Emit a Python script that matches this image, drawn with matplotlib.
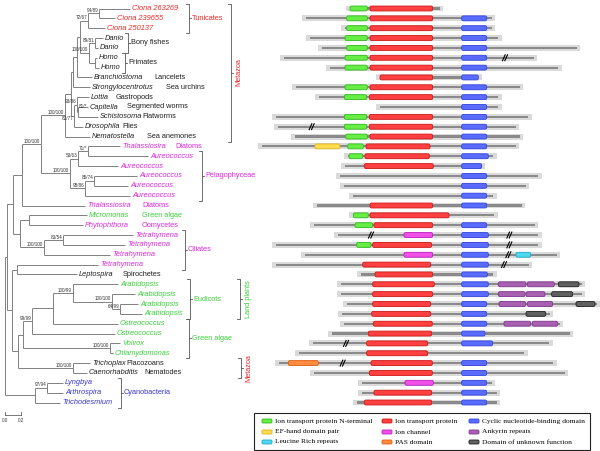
import matplotlib
matplotlib.use("Agg")
import matplotlib.pyplot as plt
from matplotlib.patches import Rectangle, FancyBboxPatch

plt.rcParams['font.family'] = ['Liberation Sans', 'DejaVu Sans']

W, H = 600, 451

# ---------------- tree (newick, support values as node labels) ----------------
tunicates = "((Ciona 263269:0.3875,Ciona 239655:0.2)94/89:0.1375,Ciona 250137:0.2125)72/67:0.1"
vertebrates = "((Danio:0.1,Danio:0.0375)89/81:0.075,(Homo:0.025,Homo:0.05):0.075)100/100:0.1125"
protostomes = ("((Lottia:0.15,(Capitella:0.125,Schistosoma:0.25)81/*:0.0125)93/86:0.0375,"
               "Drosophila:0.1125)83/77:0.0375")
metazoa = ("(((((" + tunicates + "," + vertebrates + "):0.0375,Branchiostoma:0.1875):0.05,"
           "Strongylocentrotus:0.2125):0.025," + protostomes + "):0.075,Nematostella:0.3125)100/100:0.3")
heterokonts = ("(((Thalassiosira:0.4,Aureococcus:0.75)71/*:0.125,Aureococcus:0.5)53/63:0.1,"
               "((Aureococcus:0.5375,Aureococcus:0.425)85/74:0.1125,Aureococcus:0.5625)98/86:0.1875)100/100:0.3625")
upper = "((" + metazoa + "," + heterokonts + ")100/100:0.2375,Thalassiosira:0.7875):0.1125"
ciliates = ("((Micromonas:0.725,Phytophthora:0.675):0.1125,((Tetrahymena:0.875,Tetrahymena:0.775)83/54:0.2375,"
            "Tetrahymena:0.825)100/100:0.3):0.0875")
plants = ("((((Arabidopsis:0.5625,(Arabidopsis:0.2875,(Arabidopsis:0.225,Arabidopsis:0.275)64/99:0.1)100/100:0.4875)100/99:0.25,"
          "Ostreococcus:0.8125):0.2625,Ostreococcus:1.0375)99/99:0.1125,(Volvox:0.125,Chlamydomonas:0.0375)100/100:1.0875):0.0625")
lower = ("((Tetrahymena:1.0125,Leptospira:0.75):0.0625,(" + plants +
         ",(Trichoplax:0.2125,Caenorhabditis:0.175)100/100:0.6875):0.075):0.0625")
cyanobacteria = "((Lyngbya:0.2,Arthrospira:0.2)97/94:0.15,Trichodesmium:0.3125):0.375"
newick = "(((" + upper + "," + ciliates + "):0.075," + lower + "):0.025," + cyanobacteria + ");"

# support labels not drawn above-left of their node
support_below = {"83/77"}
support_right = {"81/*"}

leaf_colours = (["R"] * 3 + ["K"] * 11 + ["M"] * 7 + ["G"] + ["M"] * 5 + ["K"]
                + ["G"] * 8 + ["K"] * 2 + ["B"] * 3)
COL = {"R": "#f02828", "K": "#202020", "M": "#dc28dc", "G": "#3ccf3c", "B": "#3535d8"}

# lineage notes next to the leaf names: (row, x px, text, colour)
notes = [(7, 154, "Lancelets", "K"), (8, 166, "Sea urchins", "K"), (9, 116, "Gastropods", "K"),
         (10, 127, "Segmented worms", "K"), (11, 142, "Flatworms", "K"), (12, 122, "Flies", "K"),
         (13, 147, "Sea anemones", "K"), (14, 175, "Diatoms", "M"), (20, 142, "Diatoms", "M"),
         (21, 142, "Green algae", "G"), (22, 142, "Oomycetes", "M"), (27, 123, "Spirochetes", "K"),
         (36, 126, "Placozoans", "K"), (37, 144, "Nematodes", "K")]

# brackets: (first row, last row, x px, label, colour, vertical label)
brackets = [(0, 2, 189, "Tunicates", "R", False), (3, 4, 128, "Bony fishes", "K", False),
            (5, 6, 125, "Primates", "K", False), (0, 13, 231, "Metazoa", "R", True),
            (15, 19, 202, "Pelagophyceae", "M", False), (23, 26, 185, "Ciliates", "M", False),
            (28, 31, 190, "Eudicots", "G", False), (32, 35, 189, "Green algae", "G", False),
            (28, 31, 240, "Land plants", "G", True), (36, 37, 241, "Metazoa", "R", True),
            (38, 40, 121, "Cyanobacteria", "B", False)]

# ---------------- domain architectures (sequence positions) ----------------
seq_start = [360, 228, 345, 240, 275, 163, 300, 450, 198, 268, 450, 138, 145, 195, 97, 355, 345,
             330, 343, 370, 262, 370, 253, 323, 138, 225, 138, 393, 332, 332, 350, 335, 343, 305,
             250, 208, 148, 253, 397, 395, 380]
seq_end = [630, 785, 785, 805, 1040, 912, 985, 745, 870, 805, 805, 895, 857, 870, 857, 790, 755,
           925, 888, 790, 875, 793, 915, 925, 925, 980, 897, 790, 1055, 1055, 1100, 960, 990, 1020,
           958, 883, 970, 1005, 785, 800, 800]

itp_n = [(0, 360, 412), (1, 350, 412), (2, 350, 412), (3, 345, 412), (4, 350, 412), (5, 345, 412),
         (6, 345, 412), (8, 345, 412), (9, 343, 410), (11, 343, 410), (12, 343, 410), (13, 347, 412),
         (14, 353, 400), (15, 357, 398), (21, 370, 415), (22, 375, 428), (24, 380, 423)]
itp = [(0, 420, 608), (1, 420, 608), (2, 420, 608), (3, 420, 608), (4, 420, 608), (5, 420, 608),
       (6, 420, 608), (7, 450, 608), (8, 420, 608), (9, 418, 608), (11, 418, 608), (12, 418, 608),
       (13, 420, 608), (14, 408, 600), (15, 405, 598), (16, 403, 610), (20, 420, 608), (21, 420, 657),
       (22, 432, 608), (24, 428, 605), (26, 398, 602), (27, 435, 608), (28, 428, 613), (29, 428, 608),
       (30, 428, 602), (31, 425, 602), (32, 430, 607), (33, 415, 605), (34, 410, 593), (35, 410, 593),
       (36, 423, 607), (37, 418, 607), (39, 432, 605), (40, 403, 605)]
cnb_rows = [1, 2, 3, 4, 5, 6, 7, 8, 9, 10, 11, 12, 13, 14, 15, 16, 17, 18, 19, 20, 22, 23, 24, 25,
            26, 27, 28, 29, 30, 31, 32, 33, 34, 36, 37, 38, 39, 40]
cnb_end = [770, 770, 770, 770, 770, 770, 745, 770, 770, 770, 770, 770, 770, 770, 775, 755, 770, 770,
           770, 770, 770, 775, 775, 775, 775, 772, 775, 775, 770, 770, 770, 765, 788, 770, 770, 770,
           770, 770]
cnb = [(r, 695, e) for r, e in zip(cnb_rows, cnb_end)]
ef_hand = [(14, 255, 330)]
ion_channel = [(23, 522, 608), (25, 522, 608), (38, 525, 610)]
ankyrin = [(28, 805, 888), (28, 892, 973), (29, 805, 885), (29, 888, 945), (30, 807, 887),
           (30, 892, 968), (32, 822, 902), (32, 907, 983)]
duf = [(28, 985, 1047), (29, 965, 1028), (30, 1038, 1095), (31, 888, 947)]
lrr = [(25, 858, 902)]
pas = [(36, 175, 265)]
breaks = [(5, 825), (12, 245), (23, 423), (23, 838), (24, 838), (25, 835), (26, 822), (34, 348), (36, 338)]

domains = [("Ion transport protein N-terminal", itp_n, "#66ee44", "#33b822"),
           ("EF-hand domain pair", ef_hand, "#ffdc50", "#e0b020"),
           ("Leucine Rich repeats", lrr, "#50d8f0", "#20a8c8"),
           ("Ion transport protein", itp, "#ff4040", "#d01818"),
           ("Ion channel", ion_channel, "#f050e8", "#c020c0"),
           ("PAS domain", pas, "#ff8c40", "#e06010"),
           ("Cyclic nucleotide-binding domain", cnb, "#5a6cff", "#3344dd"),
           ("Ankyrin repeats", ankyrin, "#a860b0", "#803890"),
           ("Domain of unknown function", duf, "#606060", "#202020")]


# ---------------- helpers ----------------
def parse(s):
    pos = 0

    def node():
        nonlocal pos
        n = {"children": [], "name": "", "bl": 0.0}
        if s[pos] == "(":
            pos += 1
            while True:
                n["children"].append(node())
                if s[pos] == ",":
                    pos += 1
                    continue
                pos += 1
                break
        start = pos
        while s[pos] not in ":,);":
            pos += 1
        n["name"] = s[start:pos].strip()
        if s[pos] == ":":
            pos += 1
            start = pos
            while s[pos] not in ",);":
                pos += 1
            n["bl"] = float(s[start:pos])
        return n

    return node()


def layout(n, x0, counter):
    n["x"] = x0 + n["bl"]
    if not n["children"]:
        n["y"] = counter[0]
        counter[0] += 1
    else:
        for c in n["children"]:
            layout(c, n["x"], counter)
        n["y"] = (n["children"][0]["y"] + n["children"][-1]["y"]) / 2


ROW0, ROWH = 8.5, 9.85          # pixel y of first row, pixels per row
Y_TOP, Y_BOT = -ROW0 / ROWH, (H - ROW0) / ROWH
row_px = lambda r: ROW0 + ROWH * r

fig = plt.figure(figsize=(W / 100, H / 100), dpi=100)

ov = fig.add_axes([0, 0, 1, 1])
ov.set_xlim(0, W)
ov.set_ylim(H, 0)
ov.axis("off")

ax_t = fig.add_axes([0, 0, 230 / W, 1])
ax_t.set_xlim(-5 / 80, 225 / 80)
ax_t.set_ylim(Y_BOT, Y_TOP)
ax_t.axis("off")

ax_d = fig.add_axes([230 / W, 0, 370 / W, 1])
ax_d.set_xlim(0, 1110)
ax_d.set_ylim(Y_BOT, Y_TOP)
ax_d.axis("off")

# ---------------- draw tree ----------------
root = parse(newick)
layout(root, 0.0, [0])
leaf_i = [0]
LINE = dict(color="#808080", lw=0.7, solid_capstyle="butt")


def draw(n):
    if n["children"]:
        ax_t.plot([n["x"], n["x"]], [n["children"][0]["y"], n["children"][-1]["y"]], **LINE)
        for c in n["children"]:
            ax_t.plot([n["x"], c["x"]], [c["y"], c["y"]], **LINE)
            draw(c)
        if n["name"]:
            if n["name"] in support_below:
                off, ha, va = (-0.7, -0.6), "right", "top"
            elif n["name"] in support_right:
                off, ha, va = (0.6, 2.0), "left", "bottom"
            else:
                off, ha, va = (-0.7, 0.3), "right", "bottom"
            ax_t.annotate(n["name"], (n["x"], n["y"]), xytext=off, textcoords="offset points",
                          ha=ha, va=va, fontsize=3.3, color="#333333")
    else:
        col = COL[leaf_colours[leaf_i[0]]]
        leaf_i[0] += 1
        ax_t.annotate(n["name"], (n["x"], n["y"]), xytext=(1.4, 0), textcoords="offset points",
                      ha="left", va="center", fontsize=5.3, style="italic", color=col)


draw(root)

# scale bar
yb = (415 - ROW0) / ROWH
ax_t.plot([0, 0.2], [yb, yb], color="#606060", lw=0.6)
for xv, lab in [(0, "0.0"), (0.2, "0.2")]:
    ax_t.plot([xv, xv], [yb, yb - 0.3], color="#606060", lw=0.6)
    ax_t.text(xv, yb + 0.3, lab, fontsize=3.3, ha="center", va="top", color="#333333")

# lineage notes
for r, x, t, c in notes:
    ov.text(x, row_px(r), t, fontsize=5.3, color=COL[c], va="center", ha="left")

# brackets
for r0, r1, x, lab, c, vert in brackets:
    y0, y1 = row_px(r0) - 5, row_px(r1) + 5
    ym = (y0 + y1) / 2
    ov.plot([x - 3, x, x, x - 3], [y0, y0, y1, y1], color="#555555", lw=0.6)
    ov.plot([x, x + 2], [ym, ym], color="#555555", lw=0.6)
    if vert:
        ov.text(x + 8, ym, lab, rotation=90, fontsize=5.3, color=COL[c], ha="center", va="center")
    else:
        ov.text(x + 3, ym, lab, fontsize=5.3, color=COL[c], ha="left", va="center")

# ---------------- draw domain architectures ----------------
for r, (s, e) in enumerate(zip(seq_start, seq_end)):
    ax_d.add_patch(Rectangle((s - 12, r - 0.3), e - s + 22, 0.6, color="#dadada", lw=0))
    ax_d.add_patch(Rectangle((s, r - 0.11), e - s, 0.22, color="#8a8a8a", lw=0))

for name, items, face, edge in domains:
    for r, a, b in items:
        ax_d.add_patch(FancyBboxPatch((a, r - 0.25), b - a, 0.5, boxstyle="round,pad=0,rounding_size=5",
                                      mutation_aspect=0.034, facecolor=face, edgecolor=edge, lw=0.6))

for r, p in breaks:
    for off in (-3.5, 3.5):
        ax_d.plot([p + off - 4, p + off + 4], [r + 0.3, r - 0.3], color="black", lw=0.8)

# ---------------- legend ----------------
ov.add_patch(Rectangle((254, 413), 336, 37, facecolor="white", edgecolor="#222222", lw=0.8))
col_x = [262, 382, 469]
row_y = [421, 432, 442]
for k, (name, items, face, edge) in enumerate(domains):
    cx, ry = col_x[k // 3], row_y[k % 3]
    ov.add_patch(FancyBboxPatch((cx, ry - 2), 10, 4, boxstyle="round,pad=0,rounding_size=1.2",
                                facecolor=face, edgecolor=edge, lw=0.6))
    ov.text(cx + 13, ry, name, fontsize=5.4, family="Liberation Serif", va="center", ha="left")

fig.savefig("out.png", dpi=100)
